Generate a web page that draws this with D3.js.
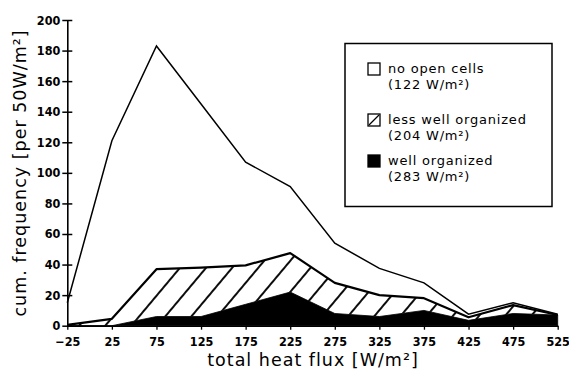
<!DOCTYPE html>
<html>
<head>
<meta charset="utf-8">
<script src="https://cdn.jsdelivr.net/npm/d3@7"></script>
<style>
  body { margin: 0; background: #fff; }
  text { font-family: "DejaVu Sans", sans-serif; fill: #000; }
</style>
</head>
<body>
<div id="chart"></div>
<script>
'use strict'

// heat flux bins (centre of each 50 W/m2 class)
let bins = [-25, 25, 75, 125, 175, 225, 275, 325, 375, 425, 475, 525]
// cumulative frequencies
let allCells = [15, 121, 183, 145, 107, 91, 54, 37.5, 28, 7.5, 15, 7.5]
let lessWell = [0.5, 4.5, 37, 38, 39.5, 47.5, 28, 20, 18, 5.5, 13.5, 7]
let wellOrg = [0, 0, 6, 6, 14, 22, 8, 6, 10, 3.5, 8, 7]
let yTicks = [0, 20, 40, 60, 80, 100, 120, 140, 160, 180, 200]

let legendItems = [
  { label: 'no open cells', sub: '(122 W/m²)', fill: 'white' },
  { label: 'less well organized', sub: '(204 W/m²)', fill: 'hatch' },
  { label: 'well organized', sub: '(283 W/m²)', fill: 'black' }
]

/*
  @Constants: layout
*/
let width = 569
let height = 371
let x0 = 67.3
let x1 = 557.7
let yTop = 20
let yBottom = 325.7

let svg = d3.select("#chart").append("svg")
  .attr("width", width)
  .attr("height", height)

let xscale = d3.scaleLinear().domain([-25, 525]).range([x0, x1])
let yscale = d3.scaleLinear().domain([0, 200]).range([yBottom, yTop])

// hatch pattern for the middle class
let defs = svg.append("defs")
let pat = defs.append("pattern")
  .attr("id", "hatch")
  .attr("patternUnits", "userSpaceOnUse")
  .attr("width", 20)
  .attr("height", 20)
  .attr("patternTransform", "rotate(40)")
pat.append("rect").attr("width", 20).attr("height", 20).attr("fill", "white")
pat.append("line")
  .attr("x1", 10).attr("x2", 10).attr("y1", 0).attr("y2", 20)
  .attr("stroke", "black").attr("stroke-width", 1.9)

let rows = bins.map((b, i) => ({ b: b, all: allCells[i], less: lessWell[i], well: wellOrg[i] }))

// hatched band
let hatchArea = d3.area()
  .x(d => xscale(d.b))
  .y0(d => yscale(d.well))
  .y1(d => yscale(d.less))
svg.append("path")
  .datum(rows)
  .attr("d", hatchArea)
  .attr("fill", "url(#hatch)")

// black area
let blackArea = d3.area()
  .x(d => xscale(d.b))
  .y0(yscale(0))
  .y1(d => yscale(d.well))
svg.append("path")
  .datum(rows)
  .attr("d", blackArea)
  .attr("fill", "black")
  .attr("stroke", "black")
  .attr("stroke-width", 0.8)

// top of hatched class
svg.append("path")
  .datum(rows)
  .attr("d", d3.line().x(d => xscale(d.b)).y(d => yscale(d.less)))
  .attr("fill", "none")
  .attr("stroke", "black")
  .attr("stroke-width", 2.2)
  .attr("stroke-linejoin", "round")

// total curve
svg.append("path")
  .datum(rows)
  .attr("d", d3.line().x(d => xscale(d.b)).y(d => yscale(d.all)))
  .attr("fill", "none")
  .attr("stroke", "black")
  .attr("stroke-width", 1.5)

// y axis, ticks cross the line
let y_axis = d3.axisLeft(yscale)
  .tickValues(yTicks)
  .tickSize(5)
  .tickSizeOuter(0)
  .tickPadding(2)
  .tickFormat(d3.format("d"))
let gy = svg.append("g")
  .attr("transform", "translate(" + x0 + ",0)")
  .call(y_axis)
gy.selectAll(".tick line").attr("x1", 5).attr("stroke-width", 1.5)
gy.select(".domain").attr("stroke-width", 1.6)
gy.selectAll("text")
  .style("font-family", "'DejaVu Sans Condensed', 'DejaVu Sans'")
  .style("font-weight", "bold")
  .style("font-size", "12.5px")

// x axis
let x_axis = d3.axisBottom(xscale)
  .tickValues(bins)
  .tickSize(4)
  .tickSizeOuter(0)
  .tickPadding(7)
  .tickFormat(d3.format("d"))
let gx = svg.append("g")
  .attr("transform", "translate(0," + yBottom + ")")
  .call(x_axis)
gx.select(".domain").attr("stroke-width", 1.6)
gx.selectAll(".tick line").attr("stroke-width", 1.3)
gx.selectAll("text")
  .style("font-family", "'DejaVu Sans Condensed', 'DejaVu Sans'")
  .style("font-weight", "bold")
  .style("font-size", "12.5px")

// axis titles
svg.append("text")
  .attr("text-anchor", "middle")
  .attr("x", 313)
  .attr("y", 366)
  .style("font-size", "17.5px")
  .style("letter-spacing", "1px")
  .text("total heat flux [W/m²]")

svg.append("text")
  .attr("text-anchor", "middle")
  .attr("transform", "translate(26,173)rotate(-90)")
  .style("font-size", "17.5px")
  .style("letter-spacing", "1px")
  .text("cum. frequency [per 50W/m²]")

// legend
svg.append("rect")
  .attr("x", 345).attr("y", 43.5)
  .attr("width", 207).attr("height", 163)
  .attr("fill", "white")
  .attr("stroke", "black")
  .attr("stroke-width", 1.5)

let legendTop = [63, 114, 155]
let legend = svg.selectAll(".legend")
  .data(legendItems)
  .enter()
  .append("g")
  .attr("class", "legend")
  .attr("transform", (d, i) => "translate(368," + legendTop[i] + ")")

legend.append("rect")
  .attr("width", 12).attr("height", 12)
  .attr("fill", d => d.fill == 'black' ? 'black' : 'white')
  .attr("stroke", "black")
  .attr("stroke-width", 1.3)

legend.filter(d => d.fill == 'hatch')
  .append("line")
  .attr("x1", 1).attr("y1", 11).attr("x2", 11).attr("y2", 1)
  .attr("stroke", "black").attr("stroke-width", 1.3)

// two-line label as one text block
let ltext = legend.append("text")
  .attr("y", 10)
  .style("font-size", "13px")
  .style("letter-spacing", "0.8px")
ltext.append("tspan")
  .attr("x", 20)
  .text(d => d.label)
ltext.append("tspan")
  .attr("x", 20)
  .attr("dy", 15.5)
  .text(d => d.sub)
</script>
</body>
</html>
